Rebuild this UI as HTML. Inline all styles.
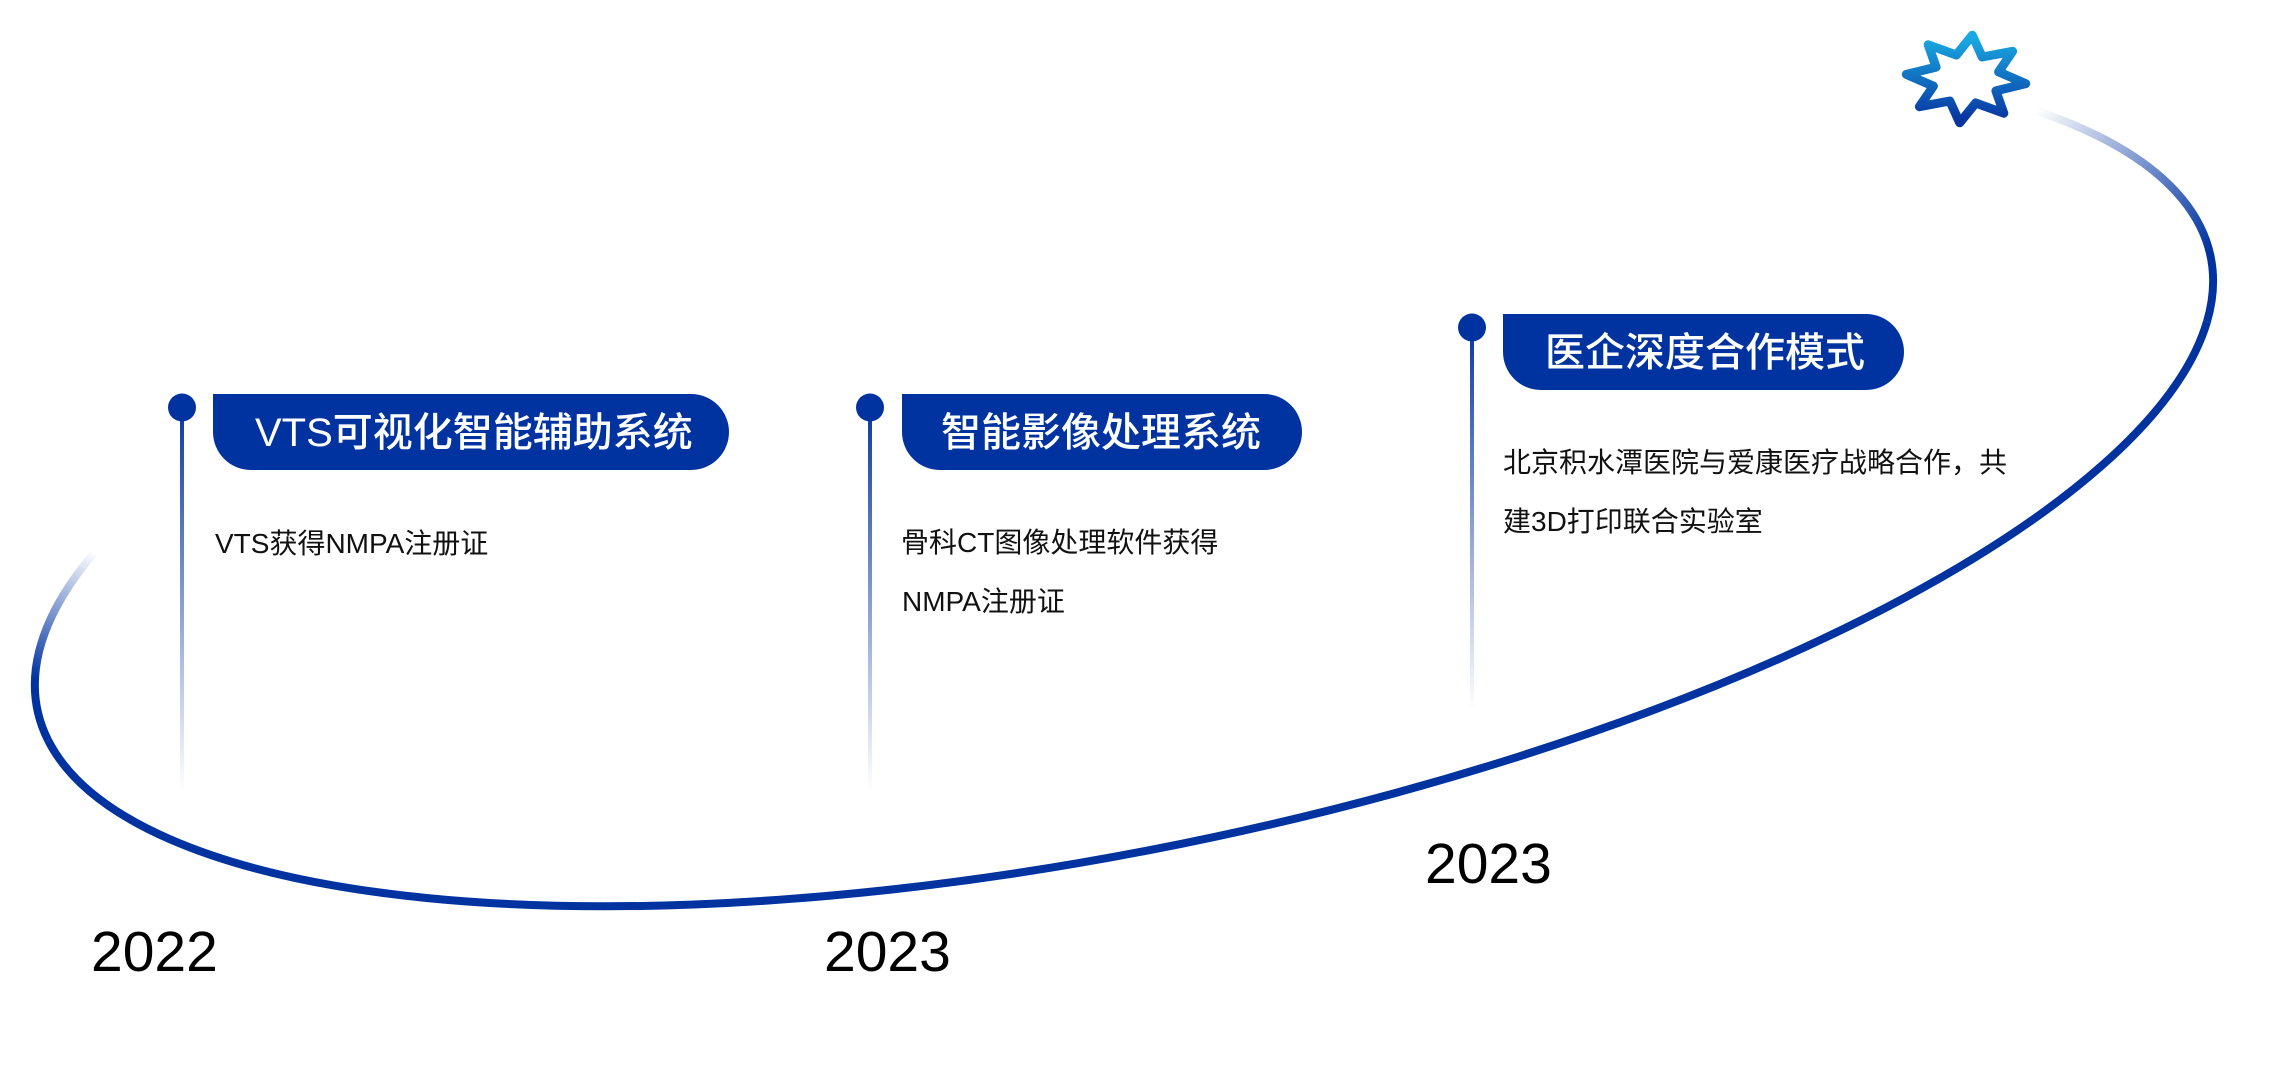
<!DOCTYPE html>
<html>
<head>
<meta charset="utf-8">
<style>
  html, body { margin: 0; padding: 0; background: #ffffff; }
  body { width: 2285px; height: 1066px; overflow: hidden; }
  svg { display: block; }
  .t { font-family: "Liberation Sans", "Noto Sans CJK SC", sans-serif; }
</style>
</head>
<body>
<svg width="2285" height="1066" viewBox="0 0 2285 1066" xmlns="http://www.w3.org/2000/svg">
  <defs>
    <linearGradient id="lf" gradientUnits="userSpaceOnUse" x1="95" y1="552" x2="36" y2="680">
      <stop offset="0" stop-color="#0033a0" stop-opacity="0"/>
      <stop offset="1" stop-color="#0033a0" stop-opacity="1"/>
    </linearGradient>
    <linearGradient id="rf" gradientUnits="userSpaceOnUse" x1="2210" y1="250" x2="2035" y2="112">
      <stop offset="0" stop-color="#0033a0" stop-opacity="1"/>
      <stop offset="1" stop-color="#0033a0" stop-opacity="0"/>
    </linearGradient>
    <linearGradient id="vg" x1="0" y1="0" x2="0" y2="1">
      <stop offset="0" stop-color="#0a38a4" stop-opacity="1"/>
      <stop offset="1" stop-color="#0a38a4" stop-opacity="0"/>
    </linearGradient>
    <linearGradient id="lg" gradientUnits="userSpaceOnUse" x1="0" y1="38" x2="0" y2="120">
      <stop offset="0" stop-color="#1aa9e2"/>
      <stop offset="1" stop-color="#0835a0"/>
    </linearGradient>
  </defs>

  <!-- main elliptical curve -->
  <path d="M 94.7 552.2 A 1110 365 -11.79 0 0 48 740.1" fill="none" stroke="url(#lf)" stroke-width="8"/>
  <path d="M 48 740.1 A 1110 365 -11.79 0 0 2207 321.6" fill="none" stroke="#0033a0" stroke-width="8"/>
  <path d="M 2207 321.6 A 1110 365 -11.79 0 0 2033 109.7" fill="none" stroke="url(#rf)" stroke-width="8"/>

  <!-- vertical lines -->
  <rect x="180" y="407" width="4" height="383" fill="url(#vg)"/>
  <rect x="868" y="407" width="4" height="383" fill="url(#vg)"/>
  <rect x="1470" y="327" width="4" height="383" fill="url(#vg)"/>

  <!-- dots -->
  <circle cx="182" cy="407.5" r="14" fill="#0033a0"/>
  <circle cx="870" cy="407.5" r="14" fill="#0033a0"/>
  <circle cx="1472" cy="327.5" r="14" fill="#0033a0"/>

  <!-- pills -->
  <path d="M213,394 H691 A38,38 0 0 1 729,432 A38,38 0 0 1 691,470 H251 A38,38 0 0 1 213,432 Z" fill="#0033a0"/>
  <path d="M902,394 H1264 A38,38 0 0 1 1302,432 A38,38 0 0 1 1264,470 H940 A38,38 0 0 1 902,432 Z" fill="#0033a0"/>
  <path d="M1503,314 H1866 A38,38 0 0 1 1904,352 A38,38 0 0 1 1866,390 H1541 A38,38 0 0 1 1503,352 Z" fill="#0033a0"/>

  <!-- pill titles -->
  <text class="t" x="255" y="446" font-size="40" font-weight="500" fill="#ffffff">VTS可视化智能辅助系统</text>
  <text class="t" x="941" y="446" font-size="40" font-weight="500" fill="#ffffff">智能影像处理系统</text>
  <text class="t" x="1545" y="366" font-size="40" font-weight="500" fill="#ffffff">医企深度合作模式</text>

  <!-- body texts -->
  <text class="t" x="215" y="553" font-size="28" fill="#111111">VTS获得NMPA注册证</text>
  <text class="t" x="901" y="552" font-size="28" fill="#111111">骨科CT图像处理软件获得</text>
  <text class="t" x="902" y="611" font-size="28" fill="#111111">NMPA注册证</text>
  <text class="t" x="1503" y="472" font-size="28" fill="#111111">北京积水潭医院与爱康医疗战略合作，共</text>
  <text class="t" x="1503" y="531" font-size="28" fill="#111111">建3D打印联合实验室</text>

  <!-- years -->
  <text class="t" x="91" y="971" font-size="57" fill="#000000">2022</text>
  <text class="t" x="824" y="971" font-size="57" fill="#000000">2023</text>
  <text class="t" x="1425" y="883" font-size="57" fill="#000000">2023</text>

  <!-- logo -->
  <polygon points="1906.3,74.4 1936.1,67.1 1928.2,44.8 1956.3,55.0 1972.3,35.2 1982.2,57.0 2012.6,51.3 1998.6,71.9 2025.7,83.6 1995.9,90.9 2003.8,113.2 1975.7,103.0 1959.7,122.8 1949.8,101.0 1919.4,106.7 1933.4,86.1"
           fill="none" stroke="url(#lg)" stroke-width="9" stroke-linejoin="round"/>
</svg>
</body>
</html>
